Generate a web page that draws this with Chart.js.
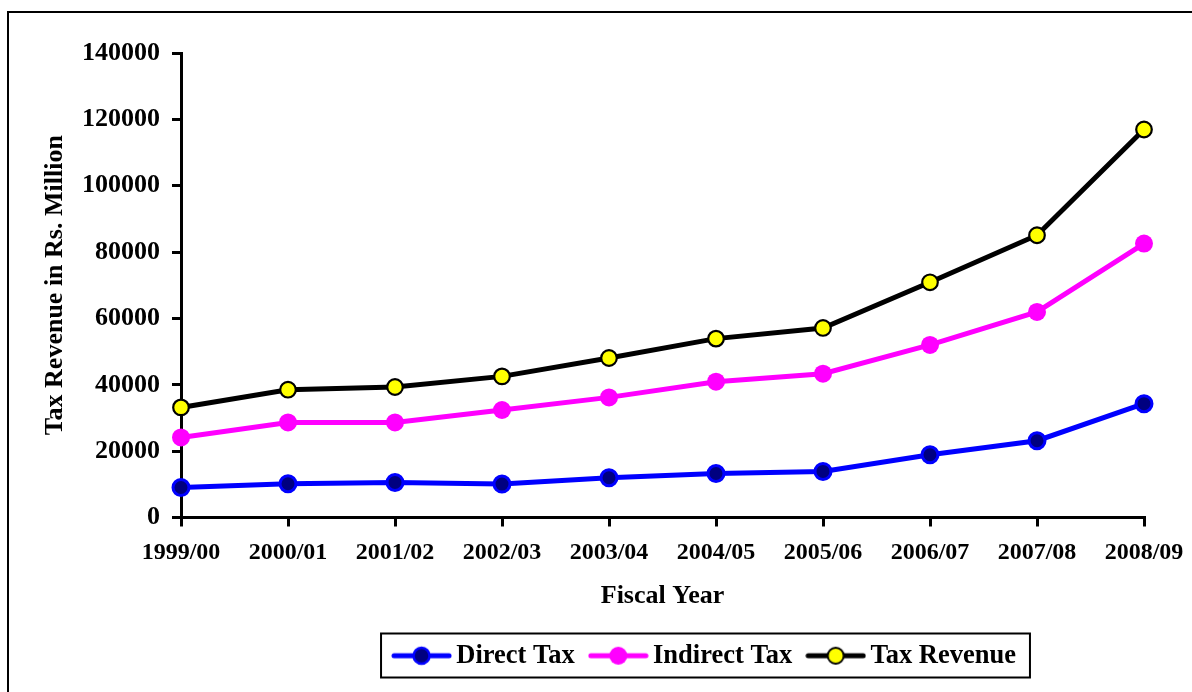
<!DOCTYPE html>
<html>
<head>
<meta charset="utf-8">
<script src="https://cdn.jsdelivr.net/npm/chart.js@4"></script>
<style>
  html, body { margin: 0; padding: 0; background: #fff; }
  #wrap { width: 1192px; height: 692px; }
</style>
</head>
<body>
<div id="wrap"><canvas id="taxChart" width="1192" height="692"></canvas></div>
<script>
// Fiscal years on the category axis
const fiscalYears = ['1999/00', '2000/01', '2001/02', '2002/03', '2003/04',
                     '2004/05', '2005/06', '2006/07', '2007/08', '2008/09'];
// Revenue series, Rs. million
const directTax   = [9050, 10170, 10560, 10080, 11980, 13270, 13880, 18910, 23140, 34300];
const indirectTax = [24130, 28660, 28660, 32400, 36200, 40940, 43350, 52010, 61960, 82560];
const taxRevenue  = [33180, 38520, 39340, 42530, 48080, 53910, 57130, 70890, 85070, 116950];
// Value axis ticks
const yTicks = [0, 20000, 40000, 60000, 80000, 100000, 120000, 140000];

const FONT = "'Liberation Serif', 'Times New Roman', serif";

// Legend sample: a short line with the series marker in its middle
function legendSample(lineColor, fill, stroke, strokeW, r) {
  const c = document.createElement('canvas');
  c.width = 61; c.height = 24;
  const g = c.getContext('2d');
  g.strokeStyle = lineColor; g.lineWidth = 5; g.lineCap = 'round';
  g.beginPath(); g.moveTo(3, 12); g.lineTo(58, 12); g.stroke();
  g.beginPath(); g.arc(30.5, 12, r, 0, Math.PI * 2);
  g.fillStyle = fill; g.fill();
  if (strokeW) { g.lineWidth = strokeW; g.strokeStyle = stroke; g.stroke(); }
  return c;
}
const samples = [
  legendSample('#0000ff', '#000080', '#0000ff', 2.5, 8),
  legendSample('#ff00ff', '#ff00ff', '#ff00ff', 0, 9),
  legendSample('#000000', '#ffff00', '#000000', 2, 8)
];

const LEGEND_PAD = 22;

// White background and the outer frame
const framePlugin = {
  id: 'frame',
  beforeDraw(chart) {
    const ctx = chart.ctx;
    ctx.save();
    ctx.fillStyle = '#fff';
    ctx.fillRect(0, 0, chart.width, chart.height);
    ctx.strokeStyle = '#000';
    ctx.lineWidth = 2;
    ctx.strokeRect(8, 12, chart.width + 40, chart.height + 40);
    ctx.restore();
  }
};

// Moves the legend row under the plot and draws a box around it
const legendBoxPlugin = {
  id: 'legendBox',
  afterLayout(chart) {
    const lg = chart.legend;
    lg.left += 136; lg.right += 136;
  },
  afterDraw(chart) {
    const lg = chart.legend;
    const lw = lg.lineWidths[0];
    const x0 = (lg.left + LEGEND_PAD + lg.right - lw) / 2;
    const cy = lg.top + LEGEND_PAD + 13;
    const ctx = chart.ctx;
    ctx.save();
    ctx.strokeStyle = '#000';
    ctx.lineWidth = 2;
    const left = x0 - 19, right = x0 + lw - LEGEND_PAD + 14;
    ctx.strokeRect(left, cy - 22, right - left, 44);
    ctx.restore();
  }
};

new Chart(document.getElementById('taxChart'), {
  type: 'line',
  data: {
    labels: fiscalYears,
    datasets: [
      {
        label: 'Direct Tax', data: directTax,
        borderColor: '#0000ff', borderWidth: 5,
        pointBackgroundColor: '#000080', pointBorderColor: '#0000ff',
        pointBorderWidth: 3, pointRadius: 8, pointHoverRadius: 8,
        clip: false, tension: 0
      },
      {
        label: 'Indirect Tax', data: indirectTax,
        borderColor: '#ff00ff', borderWidth: 5,
        pointBackgroundColor: '#ff00ff', pointBorderColor: '#ff00ff',
        pointBorderWidth: 0, pointRadius: 9, pointHoverRadius: 9,
        clip: false, tension: 0
      },
      {
        label: 'Tax Revenue', data: taxRevenue,
        borderColor: '#000000', borderWidth: 5,
        pointBackgroundColor: '#ffff00', pointBorderColor: '#000000',
        pointBorderWidth: 2.2, pointRadius: 7.8, pointHoverRadius: 7.8,
        clip: false, tension: 0
      }
    ]
  },
  options: {
    responsive: false,
    animation: false,
    devicePixelRatio: 1,
    layout: { padding: { top: 53, right: 48, bottom: 13, left: 0 } },
    plugins: {
      tooltip: { enabled: false },
      legend: {
        position: 'bottom',
        align: 'center',
        labels: {
          usePointStyle: true,
          pointStyleWidth: 43,
          boxHeight: 26,
          padding: LEGEND_PAD,
          color: '#000',
          font: { family: FONT, size: 26.5, weight: 'bold' },
          generateLabels(chart) {
            return chart.data.datasets.map((ds, i) => ({
              text: ds.label,
              pointStyle: samples[i],
              fillStyle: 'transparent',
              strokeStyle: 'transparent',
              lineWidth: 0,
              fontColor: '#000',
              datasetIndex: i,
              hidden: false
            }));
          }
        }
      }
    },
    scales: {
      x: {
        type: 'category',
        offset: false,
        afterFit(scale) { scale.height = 103; scale.paddingRight = 40; },
        border: { display: true, color: '#000', width: 3 },
        grid: {
          offset: false, drawOnChartArea: false, drawTicks: true,
          tickLength: 9, tickWidth: 3, tickColor: '#000', color: '#000', lineWidth: 3
        },
        ticks: {
          color: '#000', padding: 12, maxRotation: 0, autoSkip: false,
          font: { family: FONT, size: 24, weight: 'bold' }
        },
        title: {
          display: true, text: 'Fiscal Year', color: '#000',
          padding: { top: 14, bottom: 9 },
          font: { family: FONT, size: 26, weight: 'bold' }
        }
      },
      y: {
        min: 0, max: 140000,
        afterFit(scale) { scale.width = 181; },
        afterBuildTicks(scale) { scale.ticks = yTicks.map(v => ({ value: v })); },
        border: { display: true, color: '#000', width: 3 },
        grid: {
          drawOnChartArea: false, drawTicks: true,
          tickLength: 9, tickWidth: 3, tickColor: '#000', color: '#000', lineWidth: 3
        },
        ticks: {
          color: '#000', padding: 12,
          font: { family: FONT, size: 26, weight: 'bold' },
          callback: v => String(v)
        },
        title: {
          display: true, text: 'Tax Revenue in Rs. Million', color: '#000',
          padding: { top: 39.4, bottom: 0 },
          font: { family: FONT, size: 26, weight: 'bold' }
        }
      }
    }
  },
  plugins: [framePlugin, legendBoxPlugin]
});
</script>
</body>
</html>
